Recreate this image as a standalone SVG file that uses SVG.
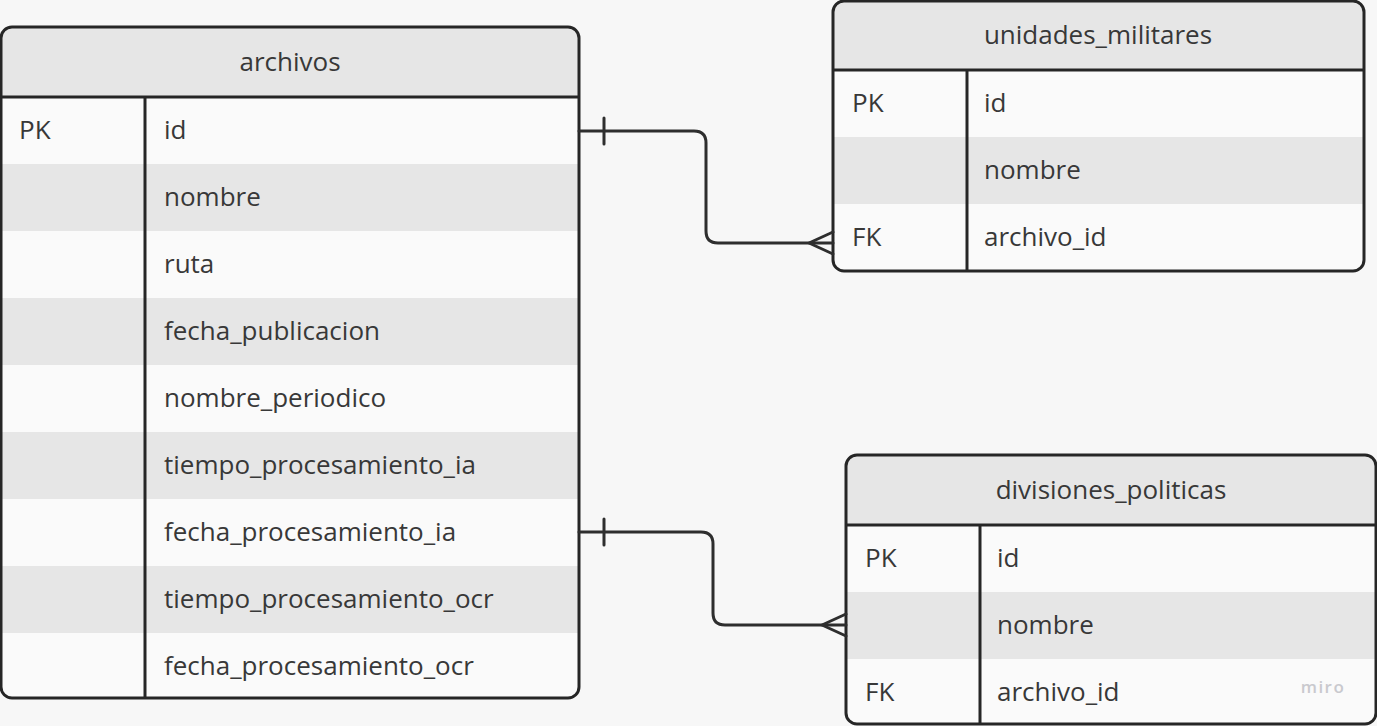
<svg xmlns="http://www.w3.org/2000/svg" width="1377" height="726" viewBox="0 0 1377 726">
<style>
.t{font-family:"Open Sans","Noto Sans","Liberation Sans",sans-serif;font-size:26px;fill:#383838}
.h{text-anchor:middle}
.hd{fill:#e6e6e6}
.rw{fill:#fafafa}
.sh{fill:#e6e6e6}
.bd{fill:none;stroke:#262626;stroke-width:3}
.ln{fill:none;stroke:#2e2e2e;stroke-width:3;stroke-linecap:round;stroke-linejoin:round}
</style>
<defs>
<clipPath id="c1"><rect x="1" y="27" width="578" height="671" rx="11"/></clipPath>
<clipPath id="c2"><rect x="833" y="1" width="531" height="270" rx="11"/></clipPath>
<clipPath id="c3"><rect x="846" y="455" width="530" height="269" rx="11"/></clipPath>
</defs>
<rect width="1377" height="726" fill="#f7f7f7"/>

<g id="archivos">
<g clip-path="url(#c1)">
<rect class="rw" x="1" y="27" width="578" height="671"/>
<rect class="hd" x="1" y="27" width="578" height="70"/>
<rect class="sh" x="1" y="164" width="578" height="67"/>
<rect class="sh" x="1" y="298" width="578" height="67"/>
<rect class="sh" x="1" y="432" width="578" height="67"/>
<rect class="sh" x="1" y="566" width="578" height="67"/>
</g>
<line class="bd" x1="1" y1="97" x2="579" y2="97"/>
<line class="bd" x1="145" y1="97" x2="145" y2="698"/>
<rect class="bd" x="1" y="27" width="578" height="671" rx="11"/>
<text class="t h" x="290" y="71">archivos</text>
<text class="t" x="19" y="139">PK</text>
<text class="t" x="164" y="139">id</text>
<text class="t" x="164" y="206">nombre</text>
<text class="t" x="164" y="273">ruta</text>
<text class="t" x="164" y="340">fecha_publicacion</text>
<text class="t" x="164" y="407">nombre_periodico</text>
<text class="t" x="164" y="474">tiempo_procesamiento_ia</text>
<text class="t" x="164" y="541">fecha_procesamiento_ia</text>
<text class="t" x="164" y="608">tiempo_procesamiento_ocr</text>
<text class="t" x="164" y="675">fecha_procesamiento_ocr</text>
</g>

<g id="unidades_militares">
<g clip-path="url(#c2)">
<rect class="rw" x="833" y="1" width="531" height="270"/>
<rect class="hd" x="833" y="1" width="531" height="69"/>
<rect class="sh" x="833" y="137" width="531" height="67"/>
</g>
<line class="bd" x1="833" y1="70" x2="1364" y2="70"/>
<line class="bd" x1="967" y1="70" x2="967" y2="271"/>
<rect class="bd" x="833" y="1" width="531" height="270" rx="11"/>
<text class="t h" x="1098" y="44">unidades_militares</text>
<text class="t" x="852" y="112">PK</text>
<text class="t" x="984" y="112">id</text>
<text class="t" x="984" y="179">nombre</text>
<text class="t" x="852" y="246">FK</text>
<text class="t" x="984" y="246">archivo_id</text>
</g>

<g id="divisiones_politicas">
<g clip-path="url(#c3)">
<rect class="rw" x="846" y="455" width="530" height="269"/>
<rect class="hd" x="846" y="455" width="530" height="70"/>
<rect class="sh" x="846" y="592" width="530" height="67"/>
</g>
<line class="bd" x1="846" y1="525" x2="1376" y2="525"/>
<line class="bd" x1="980" y1="525" x2="980" y2="724"/>
<rect class="bd" x="846" y="455" width="530" height="269" rx="11"/>
<text class="t h" x="1111" y="499">divisiones_politicas</text>
<text class="t" x="865" y="567">PK</text>
<text class="t" x="997" y="567">id</text>
<text class="t" x="997" y="634">nombre</text>
<text class="t" x="865" y="701">FK</text>
<text class="t" x="997" y="701">archivo_id</text>
<text x="1323" y="693" text-anchor="middle" style="font-family:'Open Sans','Liberation Sans',sans-serif;font-size:17px;font-weight:600;fill:#c9c9ce;letter-spacing:1.5px">miro</text>
</g>

<g id="connectors">
<path class="ln" d="M579,131 H694 Q706,131 706,143 V231 Q706,243 718,243 H833"/>
<line class="ln" x1="604" y1="118" x2="604" y2="144"/>
<path class="ln" d="M833,232 L809,243 L833,254"/>
<path class="ln" d="M579,532 H701 Q713,532 713,544 V613 Q713,625 725,625 H846"/>
<line class="ln" x1="604" y1="519" x2="604" y2="545"/>
<path class="ln" d="M846,614 L822,625 L846,636"/>
</g>
</svg>
